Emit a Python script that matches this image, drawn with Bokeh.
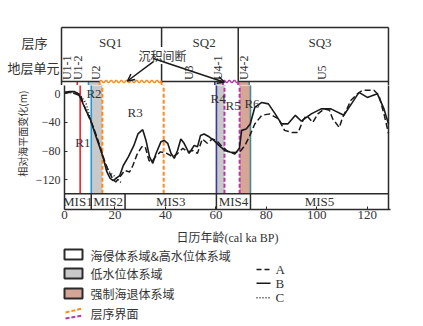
import numpy as np
from bokeh.plotting import figure
from bokeh.models import Range1d, FixedTicker, Label, Arrow, OpenHead
from bokeh.layouts import column, row
from bokeh.embed import file_html
from bokeh.resources import INLINE
from bokeh.core.properties import value

# ---------------- data ----------------
age_A = [0, 3, 5, 6.5, 7.3, 8.5, 10, 11.5, 13, 14.5, 16, 17.5, 19, 20.3, 22.4, 23.8, 25.8, 27.1, 28.7, 30.6,
         32, 33.5, 34.6, 36, 38, 40.5, 43, 44.9, 46.9, 48.9, 50.7, 52.7, 54.6, 56.6, 58.5, 60.2, 62.5, 65, 67.5, 69.5,
         71.5, 73.5, 75.4, 78.2, 81.3, 84.8, 87.2, 90.2, 92.6, 94.5, 95.9, 98.4, 100.4, 103, 105, 106.3, 108.9, 110.2,
         112.2, 113.5, 116.1, 118.1, 122.6, 124.6, 126.6, 128.4]
sl_A = [2, 2, -1, -3, -12, -23, -35, -47, -62, -78, -95, -108, -118, -123, -114, -107, -109, -100, -85, -74,
        -74, -93, -95, -88, -81, -83, -88, -83, -76, -81, -79, -83, -63, -69, -63, -65, -74, -81, -82, -81,
        -72, -58, -42, -30, -28, -35, -51, -54, -54, -37, -30, -40, -28, -21, -23, -35, -47, -33,
        -19, -9, 0, 5, 5, -2, -28, -55]

age_B = [0, 2, 4, 5.5, 6.5, 7.6, 8.9, 10.2, 11.5, 12.8, 14.1, 15.4, 16.1, 16.8, 18.1, 19.3, 20.4, 21.9, 23.3, 25.3,
         27.5, 29.1, 31, 32.3, 33.7, 35, 36.3, 38.2, 39.5, 40.9, 42.2, 43.5, 44.8, 46.1, 47.4, 49.4, 51.4, 52.7, 53.9,
         55.3, 57.3, 59.2, 61.2, 63.5, 65.5, 67.5, 69.3, 70.2, 72, 73.6, 75.4, 78.2, 80.8, 83.5, 86, 88.5, 91.5, 93.8,
         97.8, 101.7, 105.6, 110.7, 114.1, 116.7, 120, 124, 126.6, 128.4]
sl_B = [2, 3, 3, 0, -7, -16, -26, -35, -49, -63, -76, -90, -100, -109, -118, -121, -118, -114, -100, -88,
        -72, -56, -50, -65, -88, -97, -83, -67, -65, -69, -83, -90, -79, -63, -69, -83, -72, -74, -58,
        -56, -60, -65, -72, -79, -81, -84, -76, -51, -49, -42, -19, -12, -14, -28, -42, -42, -30, -38,
        -28, -21, -21, -30, -12, 2, -5, 0, -21, -42]

age_C = [0, 2, 4, 5.5, 6.5, 7.5, 8.5, 9.5, 10.5, 11.7, 13, 14.3, 15.6, 16.8, 18, 19.5, 21, 22.5]
sl_C = [1, 2, 1, 1, -3, -8, -13, -25, -38, -50, -64, -78, -92, -103, -110, -114, -119, -124]

x_ticks = [0, 20, 40, 60, 80, 100, 120]
y_ticks = [0, -40, -80, -120]

mis_labels = ["MIS1", "MIS2", "MIS3", "MIS4", "MIS5"]
mis_bounds = [0, 10.6, 24, 60.2, 73.7, 128.4]

sq_labels = ["SQ1", "SQ2", "SQ3"]
sq_bounds = [39.3, 69.4]
sq_label_x = [19.3, 56.0, 101.5]

unit_labels = ["U1-1", "U1-2", "U2", "U3", "U4-1", "U4-2", "U5"]
unit_x = [2.2, 6.3, 13.4, 49.9, 61.3, 71.5, 102.4]

region_labels = ["R1", "R2", "R3", "R4", "R5", "R6"]
region_x = [7.3, 11.7, 28.0, 60.9, 66.8, 74.3]
region_y = [-68, 1, -26, -7, -16, -14]

line_x = [6.2, 10.6, 60.2, 73.7]
line_colors = ["#e8262a", "#1f9bd7", "#3a3a9e", "#3f8f8f"]
orange_x = [15.0, 39.3]
purple_x = [63.4, 69.4]
lst_bands = [(10.6, 15.0), (60.2, 63.4)]
fsst_band = (69.4, 73.7)

header_names = ["层序", "地层单元"]
y_title = "相对海平面变化(m)"
x_title = "日历年龄(cal ka BP)"
legend_labels = ["海侵体系域&高水位体系域", "低水位体系域", "强制海退体系域", "层序界面"]
curve_names = ["A", "B", "C"]

# ---------------- styles / layout constants ----------------
SERIF = "Liberation Serif"
CJK = "Noto Sans CJK SC"
MIX = "Liberation Serif, Noto Sans CJK SC"
TXT = "#333333"
LINE = "#2b2b2b"
CURVE = "#1a1a1a"
GRAY = "#c9c9c9"
BROWN = "#d5a596"
ORANGE = "#ff8a1e"
PURPLE = "#b23aa3"

X_END = 128.4            # right edge of the chart box (ka)
Y_BOX_TOP = 92.5         # top of header box (in sea-level units)
Y_TOP = 17.2             # top of the curve panel
Y_MIS = -139.5           # top of MIS row
Y_BOT = -161.4           # bottom of MIS row
Y_SPLIT = 11.6           # where header figure hands over to the plot figure

PX = 2.5466              # px per ka
W, H_HEAD, H_PLOT, H_LEG = 423, 85, 162, 78
FRAME_L = 61
YLAB_W = 32


def shared_marks(f):
    f.quad(left=[b[0] for b in lst_bands], right=[b[1] for b in lst_bands], bottom=Y_MIS, top=Y_TOP,
           fill_color=GRAY, line_color=None)
    f.quad(left=[fsst_band[0]], right=[fsst_band[1]], bottom=Y_MIS, top=Y_TOP, fill_color=BROWN,
           line_color=None)
    f.segment(x0=line_x, y0=Y_MIS, x1=line_x, y1=Y_TOP, line_color=line_colors, line_width=1.6)
    f.segment(x0=orange_x, y0=Y_MIS, x1=orange_x, y1=Y_TOP, line_color=ORANGE, line_width=2, line_dash="4 2")
    f.segment(x0=purple_x, y0=Y_MIS, x1=purple_x, y1=Y_TOP, line_color=PURPLE, line_width=2, line_dash="4 2")
    f.segment(x0=[X_END], y0=Y_BOT, x1=[X_END], y1=Y_BOX_TOP, line_color=LINE, line_width=1.5)


# ---------------- header figure ----------------
hf = figure(width=W, height=H_HEAD, x_range=Range1d(-FRAME_L / PX, (W - FRAME_L) / PX),
            y_range=Range1d(Y_SPLIT, Y_SPLIT + H_HEAD * 1.395),
            output_backend="svg", toolbar_location=None, min_border=0,
            x_axis_location=None, y_axis_location=None, outline_line_color=None)
hf.grid.visible = False
shared_marks(hf)
hf.segment(x0=[0, 0], y0=[Y_BOX_TOP, Y_SPLIT], x1=[X_END, 0], y1=[Y_BOX_TOP, Y_BOX_TOP],
           line_color=LINE, line_width=1.5)
hf.segment(x0=sq_bounds, y0=Y_TOP, x1=sq_bounds, y1=Y_BOX_TOP, line_color=LINE, line_width=1.5)
hf.segment(x0=[0, orange_x[1], purple_x[1]], y0=Y_TOP, x1=[orange_x[0], purple_x[0], X_END], y1=Y_TOP,
           line_color=LINE, line_width=1.5)
for (xa, xb), col in ((orange_x, ORANGE), (purple_x, PURPLE)):
    wx = np.linspace(xa, xb, 300)
    wy = Y_TOP + 1.5 * np.sin(2 * np.pi * (wx - xa) / 2.0)
    hf.line(wx, wy, line_color=col, line_width=1.5)
hf.text(x=sq_label_x, y=71.5, text=sq_labels, text_font=value(SERIF), text_font_size="13px",
        text_align="center", text_baseline="middle", text_color=TXT)
hf.text(x=unit_x, y=Y_TOP + 2.0, text=unit_labels, angle=np.pi / 2, text_font=value(SERIF),
        text_font_size="12px", text_align="left", text_baseline="middle", text_color=TXT)
hf.text(x=[-10.6, -11.0], y=[71.5, 36.7], text=header_names, text_font=value(CJK), text_font_size="13px",
        text_align="center", text_baseline="middle", text_color=TXT)
hf.add_layout(Label(x=39.7, y=53.4, text="沉积间断", text_font=CJK, text_font_size="12px",
                    text_align="center", text_baseline="middle", text_color=TXT,
                    background_fill_color="white"))
hf.add_layout(Arrow(end=OpenHead(size=7, line_width=1.5, line_color=CURVE),
                    x_start=36.1, y_start=45.0, x_end=25.9, y_end=Y_TOP + 0.7,
                    line_width=1.5, line_color=CURVE))
hf.add_layout(Arrow(end=OpenHead(size=7, line_width=1.5, line_color=CURVE),
                    x_start=36.1, y_start=49.2, x_end=64.0, y_end=Y_TOP - 1.0,
                    line_width=1.5, line_color=CURVE))

# ---------------- y-label strip ----------------
yl = figure(width=YLAB_W, height=H_PLOT, x_range=Range1d(0, YLAB_W), y_range=Range1d(0, H_PLOT),
            output_backend="svg", toolbar_location=None, min_border=0,
            x_axis_location=None, y_axis_location=None, outline_line_color=None)
yl.grid.visible = False
yl.text(x=[22], y=[H_PLOT - 63], text=[y_title], angle=np.pi / 2, text_font=value(CJK),
        text_font_size="10px", text_align="center", text_baseline="middle", text_color=TXT)

# ---------------- main plot ----------------
plot_w = W - YLAB_W
frame_w = 329
p = figure(width=plot_w, height=H_PLOT, x_range=Range1d(0, frame_w / PX), y_range=Range1d(Y_BOT, Y_SPLIT),
           output_backend="svg", toolbar_location=None,
           min_border_left=FRAME_L - YLAB_W, min_border_right=plot_w - (FRAME_L - YLAB_W) - frame_w,
           min_border_top=0, min_border_bottom=38)
p.grid.visible = False
p.outline_line_color = None

p.xaxis.ticker = FixedTicker(ticks=x_ticks)
p.yaxis.ticker = FixedTicker(ticks=y_ticks)
for ax in (p.xaxis, p.yaxis):
    ax.minor_tick_line_color = None
    ax.axis_line_color = LINE
    ax.axis_line_width = 1.5
    ax.major_tick_line_color = LINE
    ax.major_tick_in = 3
    ax.major_tick_out = 0
    ax.major_label_text_font = SERIF
    ax.major_label_text_color = TXT
p.xaxis.major_label_standoff = 1
p.xaxis.major_label_text_font_size = "13px"
p.xaxis.axis_label = x_title
p.xaxis.axis_label_text_font = MIX
p.xaxis.axis_label_text_font_style = "normal"
p.xaxis.axis_label_text_font_size = "12px"
p.xaxis.axis_label_text_color = TXT
p.xaxis.axis_label_standoff = 9
p.yaxis.major_label_standoff = 4
p.yaxis.major_label_text_font_size = "12px"

shared_marks(p)
p.segment(x0=[0], y0=Y_MIS, x1=[X_END], y1=Y_MIS, line_color=LINE, line_width=1.5)
p.segment(x0=mis_bounds[1:-1], y0=Y_BOT, x1=mis_bounds[1:-1], y1=Y_MIS, line_color=LINE, line_width=1.5)

p.line(age_A, sl_A, line_color=CURVE, line_width=1.5, line_dash="6 3")
p.line(age_B, sl_B, line_color=CURVE, line_width=1.6)
p.line(age_C, sl_C, line_color=CURVE, line_width=1.5, line_dash="1 2")

p.text(x=region_x, y=region_y, text=region_labels, text_font=value(SERIF), text_font_size="13px",
       text_align="center", text_baseline="middle", text_color=TXT)
p.text(x=[(a + b) / 2 for a, b in zip(mis_bounds[:-1], mis_bounds[1:])], y=(Y_BOT + Y_MIS) / 2,
       text=mis_labels, text_font=value(SERIF), text_font_size="13px",
       text_align="center", text_baseline="middle", text_color=TXT)

# ---------------- legend figure ----------------
lg = figure(width=W, height=H_LEG, x_range=Range1d(0, W), y_range=Range1d(H_LEG, 0),
            output_backend="svg", toolbar_location=None, min_border=0,
            x_axis_location=None, y_axis_location=None, outline_line_color=None)
lg.grid.visible = False
lg.quad(left=64, right=82, top=[2, 21, 41], bottom=[12, 31, 51],
        fill_color=["white", GRAY, BROWN], line_color=LINE, line_width=2)
lg.segment(x0=[65], y0=[65], x1=[82], y1=[61], line_color=ORANGE, line_width=2, line_dash="4 2")
lg.segment(x0=[65], y0=[71], x1=[82], y1=[68], line_color=PURPLE, line_width=2, line_dash="4 2")
lg.text(x=90, y=[8, 26, 46, 66], text=legend_labels, text_font=value(CJK), text_font_size="12px",
        text_baseline="middle", text_color=TXT)
lg.segment(x0=[256], y0=[22], x1=[270], y1=[22], line_color=CURVE, line_width=1.5, line_dash="5 3")
lg.segment(x0=[256], y0=[35.7], x1=[270], y1=[35.7], line_color=CURVE, line_width=1.5)
lg.segment(x0=[256], y0=[50.3], x1=[270], y1=[50.3], line_color=CURVE, line_width=1.5, line_dash="1 2")
lg.text(x=275, y=[22, 35.7, 50.3], text=curve_names, text_font=value(SERIF), text_font_size="13px",
        text_baseline="middle", text_color=TXT)

layout = column(hf, row(yl, p), lg)
open("out.html", "w").write(file_html(layout, INLINE))
